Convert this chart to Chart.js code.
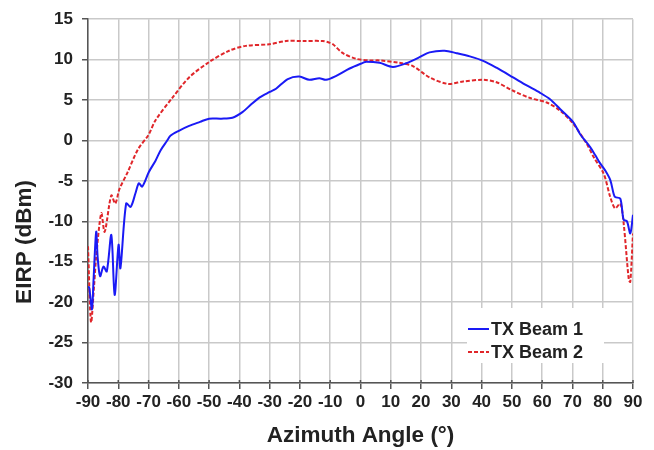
<!DOCTYPE html>
<html>
<head>
<meta charset="utf-8">
<script src="https://cdn.jsdelivr.net/npm/chart.js@4.4.1/dist/chart.umd.min.js"></script>
<style>
  html, body { margin: 0; padding: 0; background: #fff; }
</style>
</head>
<body>
<canvas id="eirpChart" width="654" height="450"></canvas>
<script>
"use strict";

// azimuth angles (deg) and EIRP (dBm)
const beam1Angles = [-90, -89.6, -88.7, -88.2, -87.3, -86.8, -86, -84.9, -83.8, -82.3, -81.2, -79.9, -79.3, -77.4,
  -75.9, -74.3, -73.2, -72.1, -69.9, -67.7, -66, -64, -62.7, -60, -56.6, -53, -50, -46, -42.3, -39, -36, -33.4,
  -30, -27.9, -24, -20.2, -16.9, -13.6, -11.4, -8, -3.6, 0.8, 1.9, 6.3, 10.7, 15.1, 19.5, 22.8, 27.8, 31.7, 36.1,
  40.5, 44.9, 50.4, 54.9, 59.3, 62.6, 65.9, 70.3, 72.5, 75.8, 77.5, 79.1, 80.8, 82.5, 83.6, 84.1, 85.8, 86.9, 88,
  89.1, 90];
const beam1Values = [-18.1, -18.2, -20.9, -17.5, -11.3, -14.5, -16.8, -15.6, -16.2, -11.7, -19.1, -12.9, -15.8, -7.8,
  -8.2, -6.5, -5.3, -5.7, -3.9, -2.5, -1.2, -0.1, 0.6, 1.2, 1.8, 2.3, 2.7, 2.7, 2.8, 3.5, 4.5, 5.3,
  6, 6.4, 7.6, 7.9, 7.5, 7.7, 7.5, 8, 8.9, 9.6, 9.75, 9.6, 9.1, 9.55, 10.3, 10.9, 11.1, 10.8, 10.4,
  9.85, 9, 7.8, 6.8, 5.9, 5.1, 3.9, 2.25, 0.8, -0.8, -1.8, -2.8, -3.7, -4.9, -6.6, -7, -7.2, -9.8, -10,
  -11.5, -9.2];

const beam2Angles = [-90, -89, -88, -87.3, -85.6, -84.5, -82.3, -81, -79.6, -77, -73.5, -70, -67.7, -62.1, -56.6,
  -50, -43.4, -37.9, -30.1, -24.6, -19.1, -12.5, -10.3, -9.1, -5.8, -1.4, 3, 6.3, 12.9, 17.3, 22.8, 28.9, 33.9,
  40.5, 44.9, 50.4, 56, 61.5, 65.9, 70.3, 74.7, 77, 80.3, 82.5, 84.1, 85.8, 86.9, 88.6, 89.1, 90];
const beam2Values = [-13.1, -22.5, -18, -14.4, -9, -11.3, -6.8, -7.8, -6, -4, -1.1, 0.7, 2.5, 5.3, 7.8,
  9.7, 11.1, 11.7, 11.9, 12.3, 12.3, 12.3, 12.1, 11.9, 10.8, 10.1, 9.9, 9.9, 9.6, 9.2, 7.8, 7, 7.3,
  7.5, 7.2, 6.15, 5.25, 4.7, 3.7, 2.05, -0.4, -2.05, -4.1, -7, -8.4, -7.8, -10.2, -17.2, -17.5, -11.5];

const seriesNames = ["TX Beam 1", "TX Beam 2"];
const xTicks = { min: -90, max: 90, step: 10 };
const yTicks = { min: -30, max: 15, step: 5 };
const yTitle = "EIRP (dBm)";

const toPoints = (xs, ys) => xs.map((x, i) => ({ x: x, y: ys[i] }));

const FONT = "'Liberation Sans', Arial, sans-serif";
const GRID = "#c9c9c9";
const AXIS = "#555555";

// legend box, y title and the small inner x ticks
const extras = {
  id: "extras",
  afterDraw(chart) {
    const c = chart.ctx;
    const xs = chart.scales.x;
    c.save();

    // short marks poking above the x axis line
    c.strokeStyle = AXIS;
    c.lineWidth = 1.5;
    xs.ticks.forEach((t) => {
      const px = xs.getPixelForValue(t.value);
      c.beginPath();
      c.moveTo(px, xs.top);
      c.lineTo(px, xs.top - 3);
      c.stroke();
    });

    // y axis title, sits a bit below the middle like the original
    c.save();
    c.translate(25, 242);
    c.rotate(-Math.PI / 2);
    c.font = "bold 22.5px " + FONT;
    c.fillStyle = "#222";
    c.textAlign = "center";
    c.textBaseline = "middle";
    c.fillText(yTitle, 0, 0);
    c.restore();

    // legend
    c.fillStyle = "#ffffff";
    c.fillRect(467, 308, 137, 55);
    c.font = "bold 18px " + FONT;
    c.textBaseline = "middle";
    c.fillStyle = "#222";
    chart.data.datasets.forEach((ds, i) => {
      const y = 329 + i * 23;
      c.strokeStyle = ds.borderColor;
      c.lineWidth = 2;
      c.setLineDash(ds.borderDash || []);
      c.beginPath();
      c.moveTo(468, y);
      c.lineTo(489, y);
      c.stroke();
      c.setLineDash([]);
      c.fillText(ds.label, 491, y + 1);
    });
    c.restore();
  },
};

new Chart(document.getElementById("eirpChart"), {
  type: "line",
  data: {
    datasets: [
      {
        label: seriesNames[0],
        data: toPoints(beam1Angles, beam1Values),
        borderColor: "#1a1af5",
        borderWidth: 2,
        pointRadius: 0,
        tension: 0.3,
        fill: false,
      },
      {
        label: seriesNames[1],
        data: toPoints(beam2Angles, beam2Values),
        borderColor: "#e0262a",
        borderWidth: 2,
        borderDash: [4, 2],
        pointRadius: 0,
        tension: 0.3,
        fill: false,
      },
    ],
  },
  options: {
    responsive: false,
    animation: false,
    devicePixelRatio: 1,
    layout: { padding: { left: 0, right: 21, top: 17, bottom: 0 } },
    plugins: {
      legend: { display: false },
      tooltip: { enabled: false },
    },
    scales: {
      x: {
        type: "linear",
        min: xTicks.min,
        max: xTicks.max,
        afterFit: (s) => { s.height = 67; },
        ticks: {
          stepSize: xTicks.step,
          color: "#222",
          font: { family: FONT, size: 17, weight: "bold" },
          padding: 3,
          maxRotation: 0,
          autoSkip: false,
        },
        grid: { color: GRID, lineWidth: 1.5, tickColor: AXIS, tickLength: 6 },
        border: { color: AXIS, width: 1.5 },
        title: {
          display: true,
          text: "Azimuth Angle (°)",
          color: "#222",
          font: { family: FONT, size: 22.5, weight: "bold" },
          padding: { top: 0, bottom: 1 },
        },
      },
      y: {
        min: yTicks.min,
        max: yTicks.max,
        afterFit: (s) => { s.width = 88; },
        ticks: {
          stepSize: yTicks.step,
          color: "#222",
          font: { family: FONT, size: 17, weight: "bold" },
          padding: 9,
        },
        grid: { color: GRID, lineWidth: 1.5, tickColor: AXIS, tickLength: 6 },
        border: { color: AXIS, width: 1.5 },
      },
    },
  },
  plugins: [extras],
});
</script>
</body>
</html>
